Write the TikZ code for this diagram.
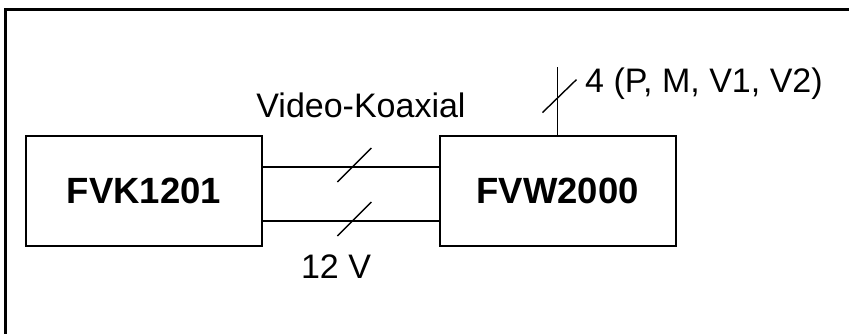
\documentclass[tikz,border=0pt]{standalone}
\usepackage{fontspec}
\setmainfont{Liberation Sans}
\usetikzlibrary{positioning}
\tikzset{
  unit/.style={draw, rectangle, line width=2pt, minimum width=236pt, minimum height=110pt, font=\fontsize{36.5}{40}\selectfont\bfseries},
  wire/.style={line width=1.4pt},
  lbl/.style={font=\fontsize{34}{40}\selectfont, inner sep=0pt}
}
\begin{document}
\begin{tikzpicture}[x=1pt, y=-1pt]
\useasboundingbox (0,0) rectangle (849,334);
\draw[line width=3pt] (5,10) rectangle (900,400);
\node[unit] (fvk) at (144,191) {FVK1201};
\node[unit] (fvw) at (557.5,191) {FVW2000};
\coordinate (top) at (557.5,67);
\draw[wire] ([yshift=24pt]fvk.east) -- coordinate[pos=0.52] (video) ([yshift=24pt]fvw.west);
\draw[wire] ([yshift=-30pt]fvk.east) -- coordinate[pos=0.52] (power) ([yshift=-30pt]fvw.west);
\draw[wire] (fvw.north) -- coordinate[pos=0.58] (ctrl) (top);
\draw[wire] ([shift={(-17,15)}]video) -- ([shift={(17,-19)}]video);
\draw[wire] ([shift={(-17,15)}]power) -- ([shift={(17,-19)}]power);
\draw[wire] ([shift={(-15,17)}]ctrl) -- ([shift={(19,-16)}]ctrl);
\node[lbl, anchor=base] (videolbl) at (361,118) {Video-Koaxial};
\node[lbl, anchor=base] (powerlbl) at (336,278) {12 V};
\node[lbl, anchor=base west] (ctrllbl) at (585,93) {4 (P, M, V1, V2)};
\end{tikzpicture}
\end{document}
